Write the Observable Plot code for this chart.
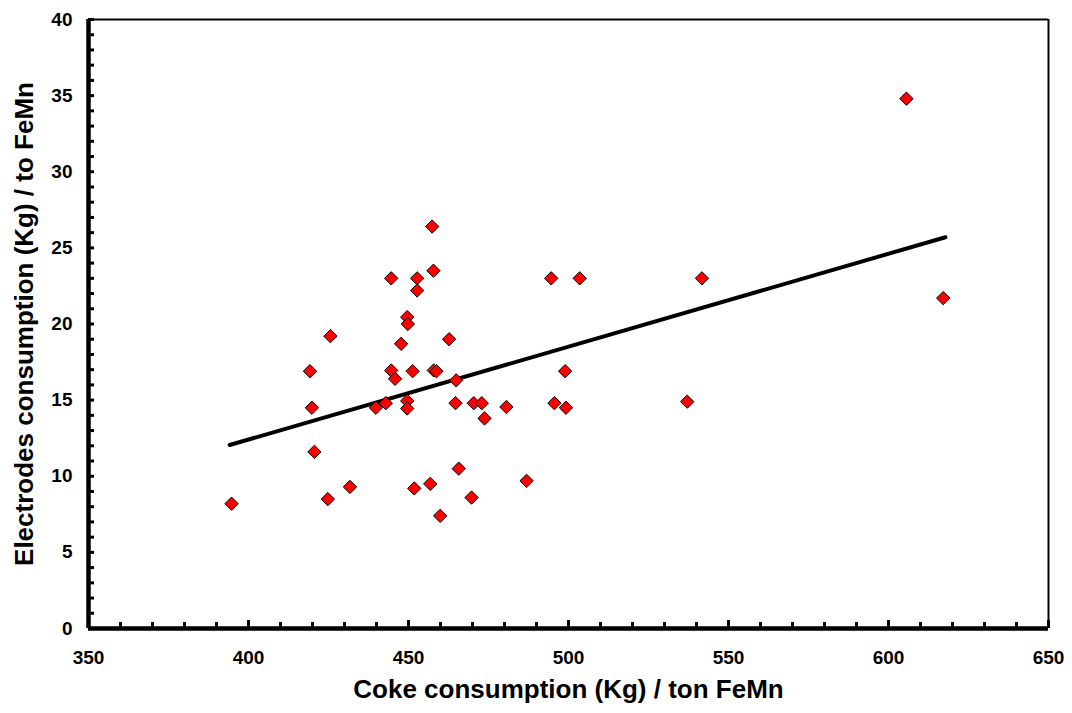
<!DOCTYPE html>
<html><head><meta charset="utf-8">
<script src="https://cdn.jsdelivr.net/npm/d3@7"></script>
<script src="https://cdn.jsdelivr.net/npm/@observablehq/plot@0.6"></script>
<style>body{margin:0;background:#fff}</style>
</head><body><div id="chart"></div>
<script>
const coke = [394.7, 419.2, 419.8, 420.6, 424.8, 425.6, 431.7, 439.8, 442.9, 444.6, 444.6, 445.8, 447.7, 449.6, 449.8, 449.6, 449.6, 451.3, 451.8, 452.7, 452.7, 456.8, 457.4, 457.8, 457.9, 458.75, 459.9, 462.7, 464.9, 464.7, 465.7, 469.7, 470.4, 472.9, 473.75, 480.6, 486.9, 494.6, 503.5, 498.95, 495.6, 499.2, 537.1, 541.7, 605.6, 617.1];
const electrodes = [8.2, 16.9, 14.5, 11.6, 8.5, 19.2, 9.3, 14.5, 14.8, 23.0, 16.95, 16.4, 18.7, 20.45, 20.0, 14.95, 14.45, 16.9, 9.2, 23.0, 22.2, 9.5, 26.4, 23.5, 16.95, 16.9, 7.4, 19.0, 16.3, 14.8, 10.5, 8.6, 14.8, 14.8, 13.8, 14.55, 9.7, 23.0, 23.0, 16.9, 14.8, 14.5, 14.9, 23.0, 34.8, 21.7];
const trendCoke = [394.1, 617.8];
const trendElectrodes = [12.05, 25.7];
const xMajorTicks = [350, 400, 450, 500, 550, 600, 650];
const xMinorTicks = [360, 370, 380, 390, 410, 420, 430, 440, 460, 470, 480, 490, 510, 520, 530, 540, 560, 570, 580, 590, 610, 620, 630, 640];
const yMajorTicks = [0, 5, 10, 15, 20, 25, 30, 35, 40];
const yMinorTicks = [1,2,3,4,6,7,8,9,11,12,13,14,16,17,18,19,21,22,23,24,26,27,28,29,31,32,33,34,36,37,38,39];
const xTitle = "Coke consumption (Kg) / ton FeMn";
const yTitle = "Electrodes consumption (Kg) / to FeMn";

const points = coke.map((c, i) => ({coke: c, electrodes: electrodes[i]}));
const trend = trendCoke.map((c, i) => ({coke: c, electrodes: trendElectrodes[i]}));

const chart = Plot.plot({
  width: 1072, height: 713,
  marginLeft: 88, marginRight: 24, marginTop: 19, marginBottom: 85,
  x: {domain: [350, 650]},
  y: {domain: [0, 40]},
  style: {fontFamily: "'Liberation Sans', Arial, sans-serif", background: "#fff", color: "#000"},
  marks: [
    Plot.axisX({ticks: xMajorTicks, tickSize: 0, tickPadding: 22, fontSize: 19, fontWeight: "bold", label: null}),
    Plot.axisX({ticks: xMinorTicks, tickSize: -6, strokeWidth: 3, text: null, label: null}),
    Plot.axisX({ticks: xMajorTicks, tickSize: -8, strokeWidth: 3, text: null, label: null}),
    Plot.axisY({ticks: yMajorTicks, tickSize: 0, tickPadding: 16, fontSize: 19, fontWeight: "bold", label: null}),
    Plot.axisY({ticks: yMinorTicks.concat(yMajorTicks), tickSize: -6, strokeWidth: 3, text: null, label: null}),
    Plot.ruleX([650], {stroke: "#000", strokeWidth: 2}),
    Plot.ruleY([40], {stroke: "#000", strokeWidth: 2}),
    Plot.ruleX([350], {stroke: "#000", strokeWidth: 4.5}),
    Plot.ruleY([0], {stroke: "#000", strokeWidth: 4.5}),
    Plot.line(trend, {x: "coke", y: "electrodes", stroke: "#000", strokeWidth: 4}),
    Plot.dot(points, {x: "coke", y: "electrodes", symbol: "diamond2", r: 6, fill: "#ff0000", stroke: "#000", strokeWidth: 1}),
    Plot.text([xTitle], {frameAnchor: "bottom", dy: 69, fontSize: 26, fontWeight: "bold", fill: "#000"}),
    Plot.text([yTitle], {frameAnchor: "left", textAnchor: "middle", dx: -64, rotate: -90, fontSize: 26, fontWeight: "bold", fill: "#000"})
  ]
});
document.getElementById("chart").appendChild(chart);
</script>
</body></html>
